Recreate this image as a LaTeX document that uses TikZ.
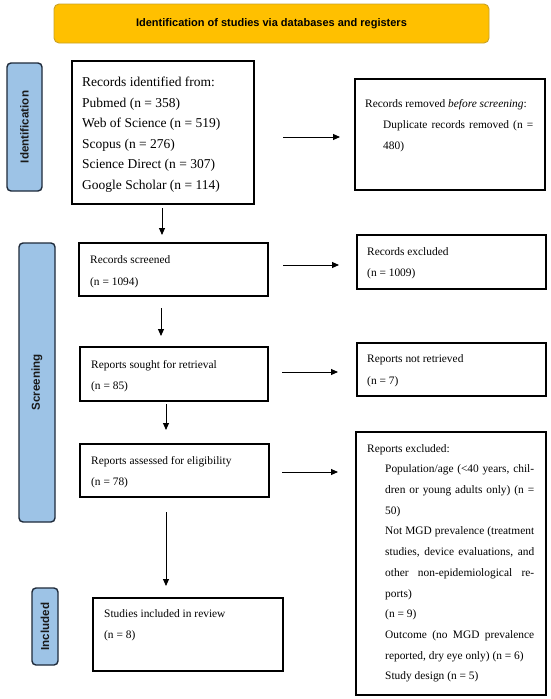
\documentclass[tikz,border=0pt]{standalone}
\usepackage{fontspec}
\setmainfont{Liberation Serif}
\newfontfamily\labfont{Liberation Sans}
\usetikzlibrary{arrows.meta}
\definecolor{bannerfill}{HTML}{FFC000}
\definecolor{bannerdraw}{HTML}{C9A227}
\definecolor{labfill}{HTML}{9DC3E6}
\definecolor{labdraw}{HTML}{1E2A3A}
\begin{document}
\begin{tikzpicture}[x=1pt,y=-1pt,
  box/.style={draw=black, line width=1.1pt, inner sep=0pt, outer sep=0pt},
  banner/.style={draw=bannerdraw, fill=bannerfill, line width=0.9pt, rounded corners=5pt, inner sep=0pt,
    font=\labfont\bfseries\fontsize{11}{13}\selectfont},
  phase/.style={draw=labdraw, fill=labfill, line width=1.4pt, rounded corners=4pt, inner sep=0pt},
  phasetext/.style={rotate=90, inner sep=0pt, font=\labfont\bfseries\fontsize{11.6}{13}\selectfont, text=black!90},
  big/.style={anchor=north west, inner sep=0pt, align=left, font=\fontsize{13.5}{20.6}\selectfont},
  sm/.style={anchor=north west, inner sep=0pt, align=left, font=\fontsize{11.4}{#1}\selectfont},
  arr/.style={-{Triangle[length=7pt,width=6pt]}, line width=0.9pt}
]
\useasboundingbox (0,0) rectangle (550,699);
\fill[white] (0,0) rectangle (550,699);

% banner
\node[banner, minimum width=435pt, minimum height=39pt] (banner) at (271.5,23.5)
  {Identification of studies via databases and registers};

% phase labels
\node[phase, minimum width=35pt, minimum height=128pt] (idlab) at (24.5,127) {};
\node[phasetext] (idtxt) at (idlab.center) {Identification};
\node[phase, minimum width=36pt, minimum height=279pt] (scrlab) at (37,382.5) {};
\node[phasetext] (scrtxt) at (scrlab.center) {Screening};
\node[phase, minimum width=26pt, minimum height=77pt] (inclab) at (45,626.5) {};
\node[phasetext] (inctxt) at (inclab.center) {Included};

% boxes
\node[box, minimum width=182pt, minimum height=143pt] (b1) at (163,132.5) {};
\node[box, minimum width=190pt, minimum height=111pt] (rem) at (450,134.5) {};
\node[box, minimum width=189pt, minimum height=53pt] (scr) at (173.5,269.5) {};
\node[box, minimum width=189pt, minimum height=54pt] (exc) at (451.5,262) {};
\node[box, minimum width=188pt, minimum height=54pt] (sought) at (174,374) {};
\node[box, minimum width=189pt, minimum height=53pt] (nr) at (451.5,369.5) {};
\node[box, minimum width=189pt, minimum height=53pt] (ass) at (174.5,470.5) {};
\node[box, minimum width=190pt, minimum height=263pt] (rex) at (451,563.5) {};
\node[box, minimum width=190pt, minimum height=73pt] (inc) at (188,634.5) {};

% texts
\node[big] (b1t) at (82,76.7) {Records identified from:\\Pubmed (n = 358)\\Web of Science (n = 519)\\Scopus (n = 276)\\Science Direct (n = 307)\\Google Scholar (n = 114)};
\node[sm=21] (remt) at (365,99.3) {Records removed \textit{before screening}:\\
  \hspace*{18pt}\makebox[150pt][s]{Duplicate records removed (n =}\\
  \hspace*{18pt}480)};
\node[sm=22.3] (scrt) at (90,255) {Records screened\\(n = 1094)};
\node[sm=21] (exct) at (367,247.3) {Records excluded\\(n = 1009)};
\node[sm=21.7] (soughtt) at (91,360) {Reports sought for retrieval\\(n = 85)};
\node[sm=21.7] (nrt) at (367,354.3) {Reports not retrieved\\(n = 7)};
\node[sm=21.3] (asst) at (91,456) {Reports assessed for eligibility\\(n = 78)};
\node[sm=21] (inct) at (104,609) {Studies included in review\\(n = 8)};
\node[sm=20.7] (rext) at (367,444) {Reports excluded:\\
  \hspace*{18pt}\makebox[149pt][s]{Population/age (<40 years, chil-}\\
  \hspace*{18pt}\makebox[149pt][s]{dren or young adults only) (n =}\\
  \hspace*{18pt}50)\\
  \hspace*{18pt}\makebox[149pt][s]{Not MGD prevalence (treatment}\\
  \hspace*{18pt}\makebox[149pt][s]{studies, device evaluations, and}\\
  \hspace*{18pt}\makebox[149pt][s]{other non-epidemiological re-}\\
  \hspace*{18pt}ports)\\
  \hspace*{18pt}(n = 9)\\
  \hspace*{18pt}\makebox[149pt][s]{Outcome (no MGD prevalence}\\
  \hspace*{18pt}reported, dry eye only) (n = 6)\\
  \hspace*{18pt}Study design (n = 5)};

% horizontal arrows
\draw[arr] ([shift={(29,4.5)}]b1.east) -- ([shift={(-15,2.5)}]rem.west);
\draw[arr] ([shift={(15,-4.5)}]scr.east) -- ([shift={(-18,3)}]exc.west);
\draw[arr] ([shift={(14,-2)}]sought.east) -- ([shift={(-19,2.5)}]nr.west);
\draw[arr] ([shift={(13,1.5)}]ass.east) -- ([shift={(-18,-91.5)}]rex.west);

% vertical arrows
\draw[arr] ([shift={(-1,4)}]b1.south) -- ([shift={(-11.5,-8)}]scr.north);
\draw[arr] ([shift={(-12.5,12)}]scr.south) -- ([shift={(-13,-11)}]sought.north);
\draw[arr] ([shift={(-8,3)}]sought.south) -- ([shift={(-8.5,-14)}]ass.north);
\draw[arr] ([shift={(-8.5,15)}]ass.south) -- ([shift={(-22,-12)}]inc.north);
\end{tikzpicture}
\end{document}
